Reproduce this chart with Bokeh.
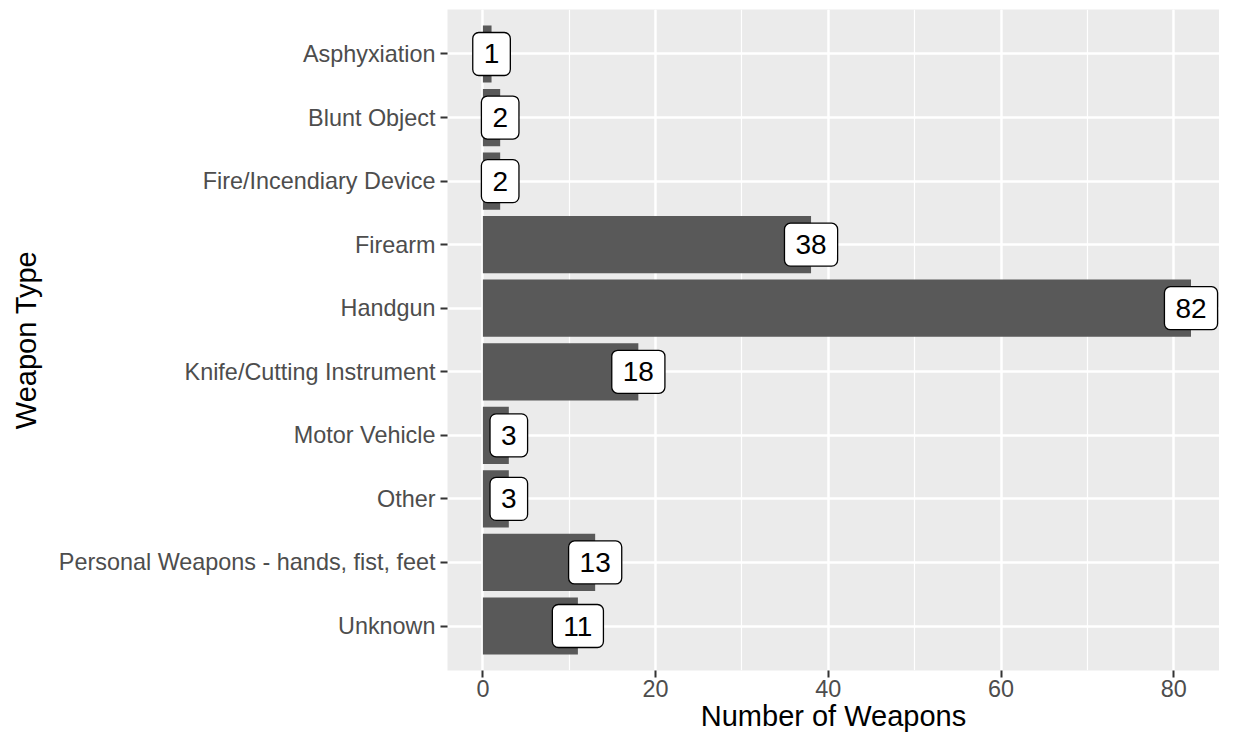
from bokeh.plotting import figure
from bokeh.models import ColumnDataSource, FactorRange, Range1d, SingleIntervalTicker
from bokeh.core.properties import value
from bokeh.embed import file_html
from bokeh.resources import INLINE

categories = ["Asphyxiation", "Blunt Object", "Fire/Incendiary Device", "Firearm",
              "Handgun", "Knife/Cutting Instrument", "Motor Vehicle", "Other",
              "Personal Weapons - hands, fist, feet", "Unknown"]
counts = [1, 2, 2, 38, 82, 18, 3, 3, 13, 11]

src = ColumnDataSource(dict(cat=categories, n=counts, lab=[str(v) for v in counts]))

FONT = "Liberation Sans"

p = figure(width=1219, height=734, output_backend="svg", toolbar_location=None,
           y_range=FactorRange(factors=list(reversed(categories)), range_padding=0.2,
                               range_padding_units="absolute"),
           x_range=Range1d(-4.1, 85.3),
           min_border_left=447, min_border_right=0, min_border_top=9, min_border_bottom=60)

p.background_fill_color = "#EBEBEB"
p.border_fill_color = "white"
p.outline_line_color = None

p.hbar(y="cat", right="n", left=0, height=0.9, source=src, fill_color="#595959", line_color=None)

p.text(x="n", y="cat", text="lab", source=src, text_align="center", text_baseline="middle",
       text_font_size="28px", text_font=value(FONT), text_color="black",
       background_fill_color="white", border_line_color="black", border_line_width=1.3,
       border_radius=6, padding=(11, 12))

ticker = SingleIntervalTicker(interval=20, num_minor_ticks=2)
p.xaxis.ticker = ticker
p.xgrid.ticker = ticker
p.xgrid.grid_line_color = "white"
p.xgrid.grid_line_width = 2.4
p.xgrid.minor_grid_line_color = "white"
p.xgrid.minor_grid_line_width = 1.2
p.ygrid.grid_line_color = "white"
p.ygrid.grid_line_width = 2.4

for ax in (p.xaxis, p.yaxis):
    ax.axis_line_color = None
    ax.major_tick_line_color = "#333333"
    ax.major_tick_line_width = 2
    ax.major_tick_out = 7
    ax.major_tick_in = 0
    ax.minor_tick_line_color = None
    ax.major_label_text_color = "#4D4D4D"
    ax.major_label_text_font = FONT
    ax.major_label_text_font_size = "23.4px"
    ax.axis_label_text_font = FONT
    ax.axis_label_text_font_size = "29px"
    ax.axis_label_text_font_style = "normal"
    ax.axis_label_text_color = "black"

p.xaxis.axis_label = "Number of Weapons"
p.yaxis.axis_label = "Weapon Type"
p.xaxis.major_label_standoff = 2
p.xaxis.axis_label_standoff = 0
p.yaxis.major_label_standoff = 5
p.yaxis.axis_label_standoff = 14

open("out.html", "w").write(file_html(p, INLINE))
